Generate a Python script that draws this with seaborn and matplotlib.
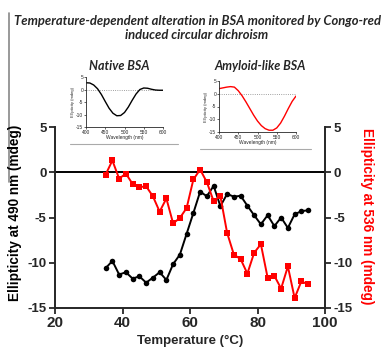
import matplotlib
matplotlib.use("Agg")
import matplotlib.pyplot as plt
from matplotlib.lines import Line2D
import seaborn as sns
import pandas as pd

# ---- data ----
temps = [35, 37, 39, 41, 43, 45, 47, 49, 51, 53, 55, 57, 59, 61, 63,
         65, 67, 69, 71, 73, 75, 77, 79, 81, 83, 85, 87, 89, 91, 93, 95]
ell_490 = [-10.6, -9.8, -11.3, -11.05, -11.75, -11.5, -12.2, -11.65, -11.05, -11.9,
           -10.15, -9.1, -6.8, -4.5, -2.15,
           -2.65, -1.5, -3.75, -2.4, -2.7, -2.6, -3.7, -4.75, -5.75, -4.75,
           -5.95, -5.0, -6.15, -4.65, -4.3, -4.2]
ell_536 = [-0.26, 1.3, -0.7, -0.15, -1.3, -1.65, -1.55, -2.65, -4.35, -2.9,
           -5.65, -5.05, -3.95, -0.8, 0.3,
           -1.1, -3.2, -2.65, -6.7, -9.1, -9.6, -11.2, -8.9, -7.95, -11.65,
           -11.45, -12.85, -10.4, -13.9, -12.05, -12.4]

wavelength = [400, 410, 420, 430, 440, 450, 460, 470, 480, 490, 500,
              510, 520, 530, 540, 550, 560, 570, 580, 590, 600]
native_cd = [2.7, 2.6, 1.8, 0.3, -2.0, -4.8, -7.5, -9.5, -10.5, -10.4, -9.2,
             -7.0, -4.3, -1.8, 0.0, 0.6, 0.5, 0.1, -0.2, -0.3, -0.3]
amyloid_cd = [2.0, 2.3, 2.6, 2.8, 2.6, 1.2, -0.8, -3.2, -5.8, -8.4, -10.7,
              -12.5, -13.7, -14.3, -14.3, -13.4, -11.5, -8.8, -5.8, -3.0, -0.9]

x_ticks = [20, 40, 60, 80, 100]
y_ticks = [5, 0, -5, -10, -15]
inset_xticks = [400, 450, 500, 550, 600]
inset_yticks = [5, 0, -5, -10, -15]

title_lines = ["Temperature-dependent alteration in BSA monitored by Congo-red",
               "induced circular dichroism"]

sns.set_style("ticks")
plt.rcParams['font.family'] = ['Liberation Sans', 'DejaVu Sans']

df = pd.DataFrame({"T": temps, "e490": ell_490, "e536": ell_536})
dfi = pd.DataFrame({"wl": wavelength, "nat": native_cd, "amy": amyloid_cd})

W, H = 387, 354
fig = plt.figure(figsize=(W / 100, H / 100), dpi=100)
ax = fig.add_axes([55 / W, 1 - 308 / H, 270 / W, 181 / H])

sns.lineplot(data=df, x="T", y="e490", ax=ax, color="black", marker="o",
             markersize=4, markeredgewidth=0, linewidth=1.4)
ax.axhline(0, color="black", linewidth=1.4, zorder=0)
ax.set_xlim(20, 100)
ax.set_ylim(-15, 5)
ax.set_xticks(x_ticks)
ax.set_yticks(y_ticks)
ax.set_xticklabels([str(t) for t in x_ticks], fontsize=11, fontweight="bold")
ax.set_yticklabels([str(t) for t in y_ticks], fontsize=9.5, fontweight="bold")
ax.tick_params(direction="out", length=4, width=1.3, pad=2)
for s in ["left", "bottom"]:
    ax.spines[s].set_linewidth(1.4)
ax.spines["top"].set_visible(False)
ax.spines["right"].set_visible(False)
ax.set_xlabel("Temperature (°C)", fontsize=9.5, fontweight="bold", labelpad=3)
ax.set_ylabel("")

ax2 = ax.twinx()
sns.lineplot(data=df, x="T", y="e536", ax=ax2, color="red", marker="s",
             markersize=4, markeredgewidth=0, linewidth=1.4)
ax2.set_ylim(-15, 5)
ax2.set_yticks(y_ticks)
ax2.set_yticklabels([str(t) for t in y_ticks], fontsize=9.5, fontweight="bold")
ax2.tick_params(direction="out", length=4, width=1.3, pad=2)
ax2.spines["right"].set_linewidth(1.4)
ax2.spines["top"].set_visible(False)
ax2.spines["left"].set_visible(False)
ax2.spines["bottom"].set_visible(False)
ax2.set_ylabel("")

fig.text(15 / W, 1 - 213 / H, "Ellipticity at 490 nm (mdeg)", rotation=90,
         ha="center", va="center", fontsize=9.8, fontweight="bold", color="black")
fig.text(367 / W, 1 - 216 / H, "Ellipticity at 536 nm (mdeg)", rotation=270,
         ha="center", va="center", fontsize=9.8, fontweight="bold", color="red")

# titles
fig.text(197 / W, 1 - 21 / H, title_lines[0], ha="center", va="center",
         fontsize=9.4, fontweight="bold", fontstyle="italic", family=["Lato", "DejaVu Sans"])
fig.text(197 / W, 1 - 35 / H, title_lines[1], ha="center", va="center",
         fontsize=9.4, fontweight="bold", fontstyle="italic", family=["Lato", "DejaVu Sans"])


def inset(rect, col, color, title, tx):
    a = fig.add_axes(rect)
    sns.lineplot(data=dfi, x="wl", y=col, ax=a, color=color, linewidth=1.0)
    a.axhline(0, color="gray", linestyle=":", linewidth=0.6, zorder=0)
    a.set_xlim(400, 600)
    a.set_ylim(-15, 5)
    a.set_xticks(inset_xticks)
    a.set_yticks(inset_yticks)
    a.set_xticklabels([str(t) for t in inset_xticks], fontsize=3.5)
    a.set_yticklabels([str(t) for t in inset_yticks], fontsize=3.5)
    a.tick_params(length=1.5, width=0.5, pad=0.5)
    a.set_xlabel("Wavelength (nm)", fontsize=3.5, labelpad=0.5)
    a.set_ylabel("Ellipticity (mdeg)", fontsize=3.0, labelpad=0.5)
    a.spines["top"].set_visible(False)
    a.spines["right"].set_visible(False)
    for s in ["left", "bottom"]:
        a.spines[s].set_linewidth(0.6)
    a.patch.set_alpha(0)
    fig.text(tx / W, 1 - 66 / H, title, ha="center", va="center", fontsize=9,
             fontweight="bold", fontstyle="italic", family=["Lato", "DejaVu Sans"])
    return a


inset([86 / W, 1 - 127 / H, 77 / W, 50 / H], "nat", "black", "Native BSA", 119)
inset([219 / W, 1 - 132 / H, 77 / W, 51 / H], "amy", "red", "Amyloid-like BSA", 260)

# decorative separators from the composite figure
fig.add_artist(Line2D([70 / W, 178 / W], [1 - 144 / H, 1 - 144 / H], color="#aaaaaa", lw=0.8))
fig.add_artist(Line2D([200 / W, 311 / W], [1 - 149 / H, 1 - 149 / H], color="#aaaaaa", lw=0.8))
fig.add_artist(Line2D([8.5 / W, 8.5 / W], [1 - 13 / H, 1 - 182 / H], color="#888888", lw=1.2))

fig.savefig("out.png", dpi=100)
